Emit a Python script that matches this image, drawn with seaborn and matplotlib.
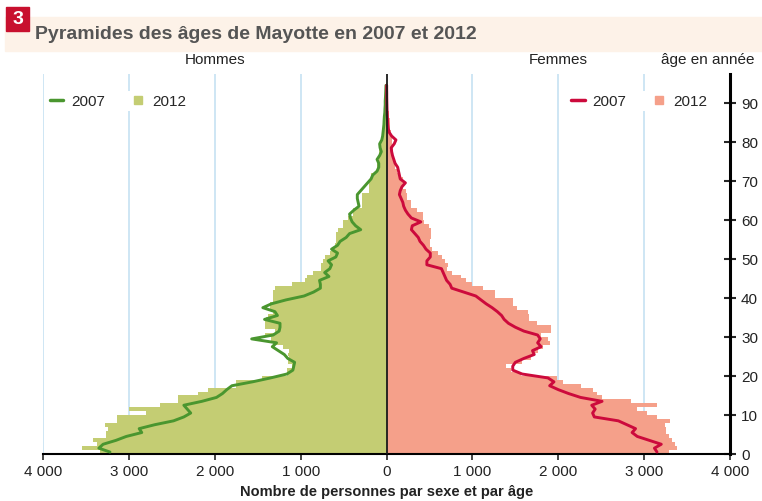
import matplotlib
matplotlib.use('Agg')
import matplotlib.pyplot as plt
from matplotlib.lines import Line2D
from matplotlib.patches import Rectangle
import seaborn as sns
import numpy as np
import pandas as pd

# ages 0..94
ages = list(range(95))

hommes_2012 = [3340, 3550, 3370, 3420, 3270, 3270, 3240, 3280, 3140, 3140,
               2800, 3000, 2640, 2430, 2430, 2190, 2080, 1750, 1750, 1450,
               1160, 1160, 1100, 1150, 1130, 1150, 1130, 1200, 1300, 1350,
               1420, 1300, 1420, 1420, 1400, 1380, 1320, 1360, 1360, 1320,
               1320, 1320, 1300, 1100, 950, 920, 860, 760, 760, 740,
               720, 660, 640, 600, 590, 590, 590, 560, 510, 510,
               450, 395, 395, 290, 290, 280, 280, 200, 200, 200,
               175, 175, 116, 116, 116, 90, 90, 90, 85, 60,
               55, 50, 45, 40, 35, 30, 25, 20, 18, 15,
               12, 10, 8, 6, 5]

hommes_2007 = [3220, 3350, 3300, 3150, 3030, 2850, 2880, 2700, 2480, 2360,
               2280, 2320, 2360, 2150, 1980, 1910, 1860, 1800, 1560, 1350,
               1160, 1090, 1080, 1070, 1150, 1190, 1260, 1330, 1280, 1570,
               1320, 1250, 1240, 1240, 1420, 1270, 1300, 1440, 1340, 1170,
               960, 850, 770, 770, 780, 670, 720, 660, 640, 680,
               590, 570, 640, 570, 540, 470, 430, 300, 360, 400,
               420, 430, 380, 320, 330, 340, 340, 300, 260, 220,
               180, 160, 110, 90, 90, 110, 80, 60, 75, 80,
               55, 45, 40, 35, 30, 28, 25, 20, 18, 15,
               15, 12, 10, 8, 6]

femmes_2012 = [3290, 3380, 3360, 3330, 3290, 3255, 3255, 3240, 3300, 3150,
               3035, 2920, 3150, 2850, 2510, 2450, 2400, 2270, 2050, 1990,
               1570, 1450, 1390, 1580, 1680, 1720, 1760, 1820, 1900, 1880,
               1800, 1910, 1920, 1750, 1660, 1660, 1650, 1520, 1470, 1470,
               1260, 1260, 1120, 1000, 930, 870, 760, 710, 720, 680,
               650, 600, 530, 510, 510, 520, 520, 520, 500, 440,
               430, 430, 350, 290, 290, 235, 235, 230, 190, 190,
               190, 150, 120, 95, 95, 80, 80, 80, 80, 65,
               65, 60, 55, 45, 40, 35, 30, 25, 20, 18,
               15, 12, 10, 8, 6]

femmes_2007 = [3150, 3120, 3200, 3060, 2920, 2860, 2900, 2800, 2700, 2420,
               2400, 2430, 2390, 2510, 2260, 2120, 2000, 1900, 1950, 1880,
               1580, 1470, 1470, 1500, 1600, 1720, 1700, 1800, 1760, 1790,
               1760, 1600, 1500, 1420, 1370, 1340, 1290, 1230, 1160, 1100,
               1040, 900, 760, 740, 700, 680, 660, 640, 470, 470,
               510, 510, 460, 430, 390, 370, 330, 290, 300, 400,
               290, 250, 220, 200, 190, 170, 150, 160, 180, 220,
               160, 150, 140, 130, 100, 85, 70, 60, 55, 90,
               110, 60, 30, 20, 15, 12, 10, 8, 6, 5,
               4, 3, 3, 2, 2]

x_ticks = [-4000, -3000, -2000, -1000, 0, 1000, 2000, 3000, 4000]
x_labels = ['4 000', '3 000', '2 000', '1 000', '0', '1 000', '2 000', '3 000', '4 000']
y_ticks = [0, 10, 20, 30, 40, 50, 60, 70, 80, 90]

vert_h = '#c4cd73'
vert_l = '#4a962f'
rose_b = '#f5a08a'
rouge_l = '#cc0a3c'
grille = '#c6e2f2'

sns.set_style('white')
plt.rcParams['font.family'] = ['Liberation Sans Narrow', 'DejaVu Sans Condensed',
                               'Liberation Sans', 'DejaVu Sans']
plt.rcParams['font.stretch'] = 'condensed'

df = pd.DataFrame({'age': ages, 'h2012': hommes_2012, 'h2007': hommes_2007,
                   'f2012': femmes_2012, 'f2007': femmes_2007})
df['y'] = df['age'] + 0.5
df['h2007_neg'] = -df['h2007']

fig = plt.figure(figsize=(7.62, 5.02), dpi=100)
ax = fig.add_axes([43 / 762, 47 / 502, 687 / 762, 380 / 502])

# vertical grid
for t in x_ticks:
    if t != 0:
        ax.axvline(t, color=grille, lw=1.2, zorder=0)

# 2012 bars
ax.barh(df['age'], -df['h2012'], height=1, align='edge', color=vert_h, lw=0, zorder=1)
ax.barh(df['age'], df['f2012'], height=1, align='edge', color=rose_b, lw=0, zorder=1)

# 2007 lines
sns.lineplot(data=df, x='h2007_neg', y='y', orient='y', sort=False, estimator=None,
             color=vert_l, lw=2.1, ax=ax, zorder=3)
sns.lineplot(data=df, x='f2007', y='y', orient='y', sort=False, estimator=None,
             color=rouge_l, lw=2.1, ax=ax, zorder=3)

ax.axvline(0, color='#1a1a1a', lw=1.3, zorder=4)

ax.set_xlim(-4000, 4000)
ax.set_ylim(0, 97.4)
ax.set_xticks(x_ticks)
ax.set_xticklabels(x_labels, fontsize=11, color='#222222')
ax.set_yticks(y_ticks)
ax.yaxis.tick_right()
ax.tick_params(axis='y', direction='inout', length=8, width=1.5, labelsize=11,
               labelcolor='#222222', pad=4, right=True, left=False)
ax.tick_params(axis='x', direction='out', length=4, width=1.2, pad=3, bottom=True)
ax.set_xlabel('')
ax.set_ylabel('')
for s in ['top', 'left']:
    ax.spines[s].set_visible(False)
ax.spines['right'].set_color('black')
ax.spines['right'].set_linewidth(2.2)
ax.spines['bottom'].set_color('black')
ax.spines['bottom'].set_linewidth(1.5)

# legends
h_handles = [Line2D([], [], color=vert_l, lw=2.5),
             Line2D([], [], color=vert_h, marker='s', ls='none', markersize=6)]
f_handles = [Line2D([], [], color=rouge_l, lw=2.5),
             Line2D([], [], color=rose_b, marker='s', ls='none', markersize=6)]
leg1 = ax.legend(h_handles, ['2007', '2012'], loc='upper left', bbox_to_anchor=(-0.006, 0.975),
                 ncol=2, frameon=True, facecolor='white', edgecolor='none', framealpha=1,
                 handlelength=0.9, columnspacing=1.7, handletextpad=0.5, fontsize=11,
                 borderpad=0.2)
ax.add_artist(leg1)
ax.legend(f_handles, ['2007', '2012'], loc='upper right', bbox_to_anchor=(0.983, 0.975),
          ncol=2, frameon=True, facecolor='white', edgecolor='none', framealpha=1,
          handlelength=0.9, columnspacing=1.7, handletextpad=0.5, fontsize=11,
          borderpad=0.2)

# title band
fig.patches.append(Rectangle((5 / 762, 1 - 52 / 502), 757 / 762, 34 / 502,
                             transform=fig.transFigure, color='#fdf2e8', zorder=0))
fig.patches.append(Rectangle((6 / 762, 1 - 32 / 502), 23 / 762, 24 / 502,
                             transform=fig.transFigure, color='#c8102e', zorder=1))
fig.text(17.5 / 762, 1 - 20 / 502, '3', color='white', fontsize=14, fontweight='bold',
         ha='center', va='center')
fig.text(35 / 762, 1 - 35 / 502, 'Pyramides des âges de Mayotte en 2007 et 2012',
         color='#555555', fontsize=14, fontweight='bold', ha='left', va='center')

fig.text(215 / 762, 1 - 60 / 502, 'Hommes', fontsize=11, color='#222222', ha='center', va='center')
fig.text(558 / 762, 1 - 60 / 502, 'Femmes', fontsize=11, color='#222222', ha='center', va='center')
fig.text(708 / 762, 1 - 60 / 502, 'âge en année', fontsize=11, color='#222222', ha='center', va='center')
fig.text(387 / 762, 1 - 492 / 502, 'Nombre de personnes par sexe et par âge', fontsize=10.5,
         fontweight='bold', color='#222222', ha='center', va='center')

fig.savefig('out.png', dpi=100)
